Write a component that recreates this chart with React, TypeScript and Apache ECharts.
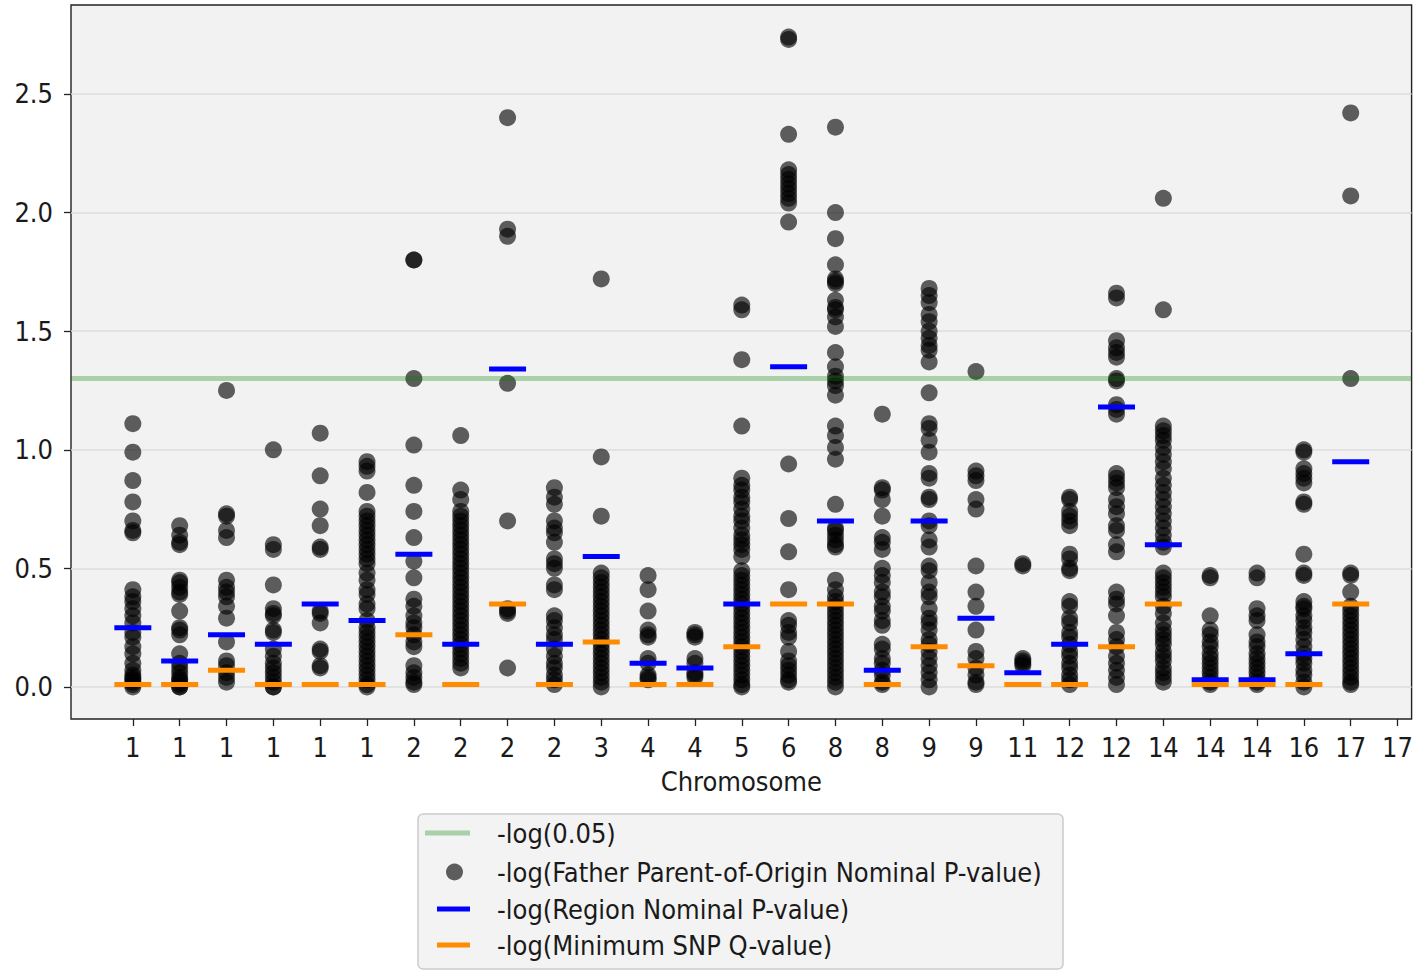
import React, { useEffect, useRef } from 'react';
import * as echarts from 'echarts';

// ---- tick labels / constants ----
const xLabels = ['1','1','1','1','1','1','2','2','2','2','3','4','4','5','6','8','8','9','9','11','12','12','14','14','14','16','17','17'];
const yTickValues = [0, 0.5, 1.0, 1.5, 2.0, 2.5];
const thresholdValue = 1.301; // -log10(0.05)

// ---- -log(Father Parent-of-Origin Nominal P-value), one array per column ----
const c00 = [1.11, 0.99, 0.87, 0.78, 0.70, 0.66, 0.65, 0.41, 0.38, 0.36, 0.33, 0.30, 0.27, 0.23, 0.21, 0.17, 0.14, 0.10, 0.07, 0.05, 0.04, 0.03, 0.02, 0.01, 0.0];
const c01 = [0.68, 0.64, 0.61, 0.60, 0.45, 0.44, 0.42, 0.40, 0.39, 0.32, 0.25, 0.24, 0.22, 0.14, 0.10, 0.08, 0.06, 0.04, 0.03, 0.02, 0.01, 0.0, 0.0];
const c02 = [1.25, 0.73, 0.72, 0.66, 0.63, 0.45, 0.42, 0.40, 0.38, 0.34, 0.29, 0.19, 0.11, 0.09, 0.06, 0.04, 0.02];
const c03 = [1.00, 0.60, 0.58, 0.43, 0.33, 0.31, 0.30, 0.24, 0.23, 0.16, 0.13, 0.10, 0.08, 0.06, 0.04, 0.02, 0.0, 0.0];
const c04 = [1.07, 0.89, 0.75, 0.68, 0.59, 0.58, 0.32, 0.31, 0.27, 0.16, 0.15, 0.09, 0.08];
const c05 = [0.95, 0.93, 0.91, 0.82, 0.74, 0.72, 0.70, 0.68, 0.66, 0.64, 0.62, 0.60, 0.58, 0.56, 0.54, 0.52, 0.48, 0.45, 0.41, 0.39, 0.35, 0.33, 0.28, 0.25, 0.23, 0.21, 0.19, 0.17, 0.15, 0.13, 0.11, 0.09, 0.07, 0.05, 0.03, 0.01, 0.0];
const c06 = [1.80, 1.80, 1.30, 1.02, 0.85, 0.74, 0.63, 0.53, 0.46, 0.37, 0.34, 0.30, 0.27, 0.25, 0.22, 0.19, 0.17, 0.09, 0.06, 0.04, 0.02, 0.01];
const c07 = [1.06, 0.83, 0.79, 0.74, 0.72, 0.70, 0.68, 0.66, 0.64, 0.62, 0.60, 0.58, 0.56, 0.54, 0.52, 0.50, 0.48, 0.46, 0.44, 0.42, 0.40, 0.38, 0.36, 0.34, 0.32, 0.30, 0.28, 0.26, 0.24, 0.22, 0.20, 0.18, 0.16, 0.14, 0.12, 0.10, 0.08];
const c08 = [2.40, 1.93, 1.90, 1.28, 0.70, 0.33, 0.32, 0.31, 0.08];
const c09 = [0.84, 0.80, 0.77, 0.70, 0.67, 0.65, 0.61, 0.54, 0.52, 0.50, 0.43, 0.41, 0.30, 0.28, 0.25, 0.22, 0.20, 0.16, 0.13, 0.10, 0.08, 0.05, 0.03, 0.01];
const c10 = [1.72, 0.97, 0.72, 0.48, 0.46, 0.44, 0.42, 0.40, 0.38, 0.36, 0.34, 0.32, 0.30, 0.28, 0.26, 0.24, 0.22, 0.20, 0.18, 0.16, 0.14, 0.12, 0.10, 0.08, 0.06, 0.04, 0.02, 0.0];
const c11 = [0.47, 0.41, 0.32, 0.24, 0.22, 0.21, 0.12, 0.10, 0.05, 0.04, 0.03];
const c12 = [0.23, 0.22, 0.21, 0.12, 0.10, 0.06, 0.05, 0.04];
const c13 = [1.61, 1.59, 1.38, 1.10, 0.88, 0.85, 0.83, 0.80, 0.78, 0.75, 0.72, 0.70, 0.67, 0.64, 0.62, 0.60, 0.58, 0.55, 0.49, 0.47, 0.45, 0.43, 0.41, 0.39, 0.37, 0.35, 0.33, 0.31, 0.29, 0.27, 0.25, 0.23, 0.21, 0.19, 0.17, 0.15, 0.13, 0.11, 0.09, 0.07, 0.05, 0.03, 0.01, 0.0];
const c14 = [2.74, 2.73, 2.33, 2.18, 2.16, 2.14, 2.12, 2.10, 2.08, 2.06, 2.04, 1.96, 0.94, 0.71, 0.57, 0.41, 0.28, 0.26, 0.23, 0.21, 0.15, 0.11, 0.09, 0.07, 0.05, 0.03, 0.02];
const c15 = [2.36, 2.00, 1.89, 1.78, 1.72, 1.71, 1.70, 1.63, 1.60, 1.59, 1.56, 1.52, 1.41, 1.35, 1.31, 1.29, 1.27, 1.23, 1.10, 1.06, 1.01, 0.96, 0.77, 0.67, 0.66, 0.64, 0.62, 0.60, 0.59, 0.45, 0.41, 0.38, 0.36, 0.34, 0.32, 0.30, 0.28, 0.26, 0.24, 0.22, 0.20, 0.18, 0.16, 0.14, 0.12, 0.10, 0.08, 0.06, 0.04, 0.02, 0.0];
const c16 = [1.15, 0.84, 0.83, 0.79, 0.72, 0.63, 0.61, 0.58, 0.50, 0.47, 0.44, 0.40, 0.38, 0.34, 0.32, 0.28, 0.26, 0.18, 0.16, 0.12, 0.10, 0.07, 0.05, 0.02, 0.01];
const c17 = [1.68, 1.65, 1.62, 1.57, 1.54, 1.50, 1.47, 1.44, 1.42, 1.37, 1.24, 1.11, 1.09, 1.04, 0.99, 0.90, 0.88, 0.80, 0.79, 0.70, 0.68, 0.62, 0.59, 0.51, 0.49, 0.44, 0.40, 0.38, 0.33, 0.29, 0.27, 0.24, 0.20, 0.18, 0.15, 0.12, 0.09, 0.06, 0.03, 0.0];
const c18 = [1.33, 0.91, 0.89, 0.87, 0.79, 0.75, 0.51, 0.40, 0.34, 0.24, 0.15, 0.12, 0.08, 0.05, 0.02, 0.01];
const c19 = [0.52, 0.51, 0.12, 0.11, 0.10, 0.09];
const c20 = [0.80, 0.79, 0.74, 0.72, 0.70, 0.68, 0.56, 0.54, 0.50, 0.49, 0.36, 0.34, 0.29, 0.27, 0.23, 0.21, 0.18, 0.15, 0.13, 0.10, 0.08, 0.05, 0.03, 0.01];
const c21 = [1.66, 1.64, 1.46, 1.43, 1.41, 1.39, 1.30, 1.29, 1.19, 1.17, 1.15, 0.90, 0.88, 0.86, 0.84, 0.79, 0.76, 0.73, 0.68, 0.66, 0.60, 0.57, 0.40, 0.37, 0.35, 0.30, 0.23, 0.20, 0.17, 0.13, 0.10, 0.07, 0.04, 0.01];
const c22 = [2.06, 1.59, 1.10, 1.08, 1.06, 1.04, 1.01, 0.98, 0.95, 0.92, 0.88, 0.85, 0.82, 0.79, 0.76, 0.73, 0.70, 0.67, 0.64, 0.61, 0.59, 0.48, 0.46, 0.44, 0.42, 0.40, 0.38, 0.34, 0.31, 0.27, 0.24, 0.22, 0.20, 0.18, 0.15, 0.13, 0.11, 0.08, 0.06, 0.04, 0.02];
const c23 = [0.47, 0.46, 0.30, 0.24, 0.22, 0.19, 0.17, 0.14, 0.12, 0.10, 0.08, 0.06, 0.04, 0.02, 0.01];
const c24 = [0.48, 0.46, 0.33, 0.30, 0.28, 0.22, 0.19, 0.17, 0.14, 0.12, 0.10, 0.08, 0.06, 0.04, 0.02, 0.01];
const c25 = [1.00, 0.99, 0.92, 0.90, 0.88, 0.86, 0.78, 0.77, 0.56, 0.48, 0.47, 0.36, 0.34, 0.33, 0.30, 0.28, 0.25, 0.23, 0.20, 0.17, 0.14, 0.12, 0.10, 0.07, 0.05, 0.02, 0.0];
const c26 = [2.42, 2.07, 1.30, 0.48, 0.47, 0.40, 0.34, 0.32, 0.30, 0.28, 0.26, 0.24, 0.22, 0.20, 0.18, 0.16, 0.14, 0.12, 0.10, 0.08, 0.06, 0.04, 0.02, 0.01];
const fatherColumns = [c00, c01, c02, c03, c04, c05, c06, c07, c08, c09, c10, c11, c12, c13, c14, c15, c16, c17, c18, c19, c20, c21, c22, c23, c24, c25, c26];

// ---- -log(Region Nominal P-value), one per column ----
const regionP = [0.25, 0.11, 0.22, 0.18, 0.35, 0.28, 0.56, 0.18, 1.34, 0.18, 0.55, 0.10, 0.08, 0.35, 1.35, 0.70, 0.07, 0.70, 0.29, 0.06, 0.18, 1.18, 0.60, 0.03, 0.03, 0.14, 0.95];
// ---- -log(Minimum SNP Q-value), one per column ----
const minSnpQ = [0.01, 0.01, 0.07, 0.01, 0.01, 0.01, 0.22, 0.01, 0.35, 0.01, 0.19, 0.01, 0.01, 0.17, 0.35, 0.35, 0.01, 0.17, 0.09, 0.01, 0.01, 0.17, 0.35, 0.01, 0.01, 0.01, 0.35];

const NAME_THR = '-log(0.05)';
const NAME_FATHER = '-log(Father Parent-of-Origin Nominal P-value)';
const NAME_REGION = '-log(Region Nominal P-value)';
const NAME_Q = '-log(Minimum SNP Q-value)';

const FONT = "'DejaVu Sans Condensed', 'DejaVu Sans', sans-serif";
const FS = 27;
const TXT = '#1a1a1a';

export default function App() {
  const ref = useRef<HTMLDivElement>(null);
  useEffect(() => {
    if (!ref.current) return;
    const chart = echarts.init(ref.current, null, { renderer: 'svg' });
    const xTickValues = xLabels.map((_, i) => i);
    const fatherData: number[][] = [];
    fatherColumns.forEach((col, i) => col.forEach((v) => fatherData.push([i, v])));

    const legendBase = (name: string, left: number, top: number, w: number, h: number, icon: string, color: string, pad: number) => ({
      show: true,
      selectedMode: false,
      left, top,
      padding: 0,
      itemWidth: w,
      itemHeight: h,
      data: [{ name, icon, itemStyle: { color, opacity: 1 } }],
      textStyle: { fontFamily: FONT, fontSize: FS, color: TXT, lineHeight: 30, padding: [0, 0, 0, pad] },
    });

    chart.setOption({
      animation: false,
      backgroundColor: '#ffffff',
      textStyle: { fontFamily: FONT },
      grid: {
        left: 71, right: 4, top: 5, bottom: 252,
        show: true, backgroundColor: '#f2f2f2', borderColor: '#222', borderWidth: 1.4,
        containLabel: false,
      },
      xAxis: {
        type: 'value', min: -1.32, max: 27.3,
        axisLine: { show: false, onZero: false },
        axisTick: { show: true, length: 7, lineStyle: { color: '#222', width: 1.3 }, customValues: xTickValues },
        axisLabel: {
          customValues: xTickValues, margin: 15,
          formatter: (v: number) => xLabels[Math.round(v)] ?? '',
          fontFamily: FONT, fontSize: FS, color: TXT,
        },
        splitLine: { show: false },
        name: 'Chromosome', nameLocation: 'middle', nameGap: 49,
        nameTextStyle: { fontFamily: FONT, fontSize: FS, color: TXT },
      },
      yAxis: {
        type: 'value', min: -0.135, max: 2.875,
        axisLine: { show: false, onZero: false },
        axisTick: { show: true, length: 7, lineStyle: { color: '#222', width: 1.3 }, customValues: yTickValues },
        axisLabel: {
          customValues: yTickValues, margin: 18,
          formatter: (v: number) => v.toFixed(1),
          fontFamily: FONT, fontSize: FS, color: TXT,
        },
        splitLine: { show: true, lineStyle: { color: '#dcdcdc', width: 1.5 } },
      },
      legend: [
        legendBase(NAME_THR, 425, 818, 45, 5, 'rect', 'rgb(169,208,169)', 22),
        legendBase(NAME_FATHER, 446, 857, 17, 17, 'circle', 'rgba(0,0,0,0.62)', 29),
        legendBase(NAME_REGION, 437, 894, 33, 5, 'rect', '#0000ff', 22),
        legendBase(NAME_Q, 437, 930, 33, 5, 'rect', '#ff8c00', 22),
      ],
      graphic: [
        {
          type: 'rect', z: 0, silent: true,
          shape: { x: 418, y: 814, width: 645, height: 155, r: 5 },
          style: { fill: '#f3f3f3', stroke: '#cccccc', lineWidth: 1.5 },
        },
      ],
      series: [
        {
          name: NAME_FATHER, type: 'scatter', symbol: 'circle', symbolSize: 17,
          itemStyle: { color: '#000000', opacity: 0.62 },
          data: fatherData, z: 2,
        },
        {
          name: NAME_REGION, type: 'scatter', symbol: 'rect', symbolSize: [37, 5],
          itemStyle: { color: '#0000ff', opacity: 1 },
          data: regionP.map((v, i) => [i, v]), z: 3,
        },
        {
          name: NAME_Q, type: 'scatter', symbol: 'rect', symbolSize: [37, 5],
          itemStyle: { color: '#ff8c00', opacity: 1 },
          data: minSnpQ.map((v, i) => [i, v]), z: 4,
        },
        {
          name: NAME_THR, type: 'line', data: [], z: 5,
          itemStyle: { color: 'rgb(169,208,169)' },
          markLine: {
            silent: true, symbol: ['none', 'none'], label: { show: false },
            lineStyle: { color: 'rgb(0,128,0)', opacity: 0.3, width: 5, type: 'solid' },
            data: [{ yAxis: thresholdValue }],
          },
        },
      ],
    });
    return () => chart.dispose();
  }, []);
  return <div ref={ref} style={{ position: 'fixed', left: 0, top: 0, width: 1416, height: 971 }} />;
}
